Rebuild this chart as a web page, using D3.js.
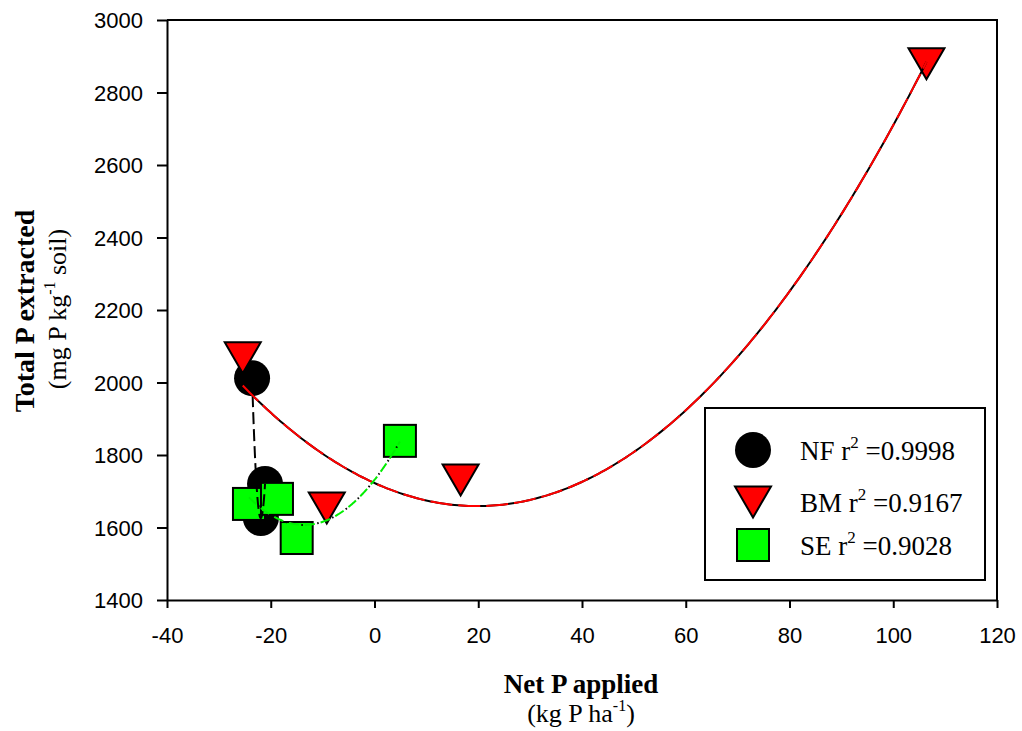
<!DOCTYPE html>
<html>
<head>
<meta charset="utf-8">
<script src="https://cdn.jsdelivr.net/npm/d3@7"></script>
<style>
  body { margin: 0; background: #fff; }
  svg { display: block; }
</style>
</head>
<body>
<svg id="chart" width="1022" height="731"></svg>
<script>
// values
const nfX = [-23.6, -21.1, -21.9];
const nfY = [2012, 1720, 1626];
const bmX = [-25.4, -9.2, 16.6, 106.4];
const bmY = [2068, 1654, 1731, 2879];
const seX = [-24.2, -18.8, -15.0, 4.9];
const seY = [1665, 1679, 1571, 1839];
const xTicks = [-40, -20, 0, 20, 40, 60, 80, 100, 120];
const yTicks = [1400, 1600, 1800, 2000, 2200, 2400, 2600, 2800, 3000];
const legendNames = ['NF', 'BM', 'SE'];
const legendR2 = ['0.9998', '0.9167', '0.9028'];

const svg = d3.select('#chart');
const serif = 'Liberation Serif, Times New Roman, serif';
const sans = 'Liberation Sans, Arial, sans-serif';

const x = d3.scaleLinear().domain([-40, 120]).range([167, 997]);
const y = d3.scaleLinear().domain([1400, 3000]).range([600, 20]);

// least squares quadratic y = a + b x + c x^2
function quadFit(xs, ys) {
  const S = [0, 0, 0, 0, 0], T = [0, 0, 0];
  xs.forEach((xi, i) => {
    for (let k = 0; k < 5; k++) S[k] += Math.pow(xi, k);
    for (let k = 0; k < 3; k++) T[k] += ys[i] * Math.pow(xi, k);
  });
  const M = [[S[0], S[1], S[2], T[0]], [S[1], S[2], S[3], T[1]], [S[2], S[3], S[4], T[2]]];
  for (let i = 0; i < 3; i++) {
    for (let j = i + 1; j < 3; j++) {
      const f = M[j][i] / M[i][i];
      for (let k = i; k < 4; k++) M[j][k] -= f * M[i][k];
    }
  }
  const c = [0, 0, 0];
  for (let i = 2; i >= 0; i--) {
    let s = M[i][3];
    for (let k = i + 1; k < 3; k++) s -= M[i][k] * c[k];
    c[i] = s / M[i][i];
  }
  return c;
}

function fitPoints(xs, ys) {
  const c = quadFit(xs, ys);
  const lo = d3.min(xs), hi = d3.max(xs);
  return d3.range(0, 201).map(i => {
    const v = lo + (hi - lo) * i / 200;
    return [v, c[0] + c[1] * v + c[2] * v * v];
  });
}

const line = d3.line().x(d => x(d[0])).y(d => y(d[1]));

// axes
const xAxis = d3.axisBottom(x).tickValues(xTicks).tickSize(8).tickSizeOuter(0).tickFormat(d => String(d));
const yAxis = d3.axisLeft(y).tickValues(yTicks).tickSize(10).tickSizeOuter(0).tickFormat(d => String(d));

const gx = svg.append('g').attr('transform', 'translate(0,600)').call(xAxis);
const gy = svg.append('g').attr('transform', 'translate(167,0)').call(yAxis);
[gx, gy].forEach(g => {
  g.select('.domain').attr('stroke', '#000').attr('stroke-width', 2);
  g.selectAll('.tick line').attr('stroke', '#000').attr('stroke-width', 2);
  g.selectAll('.tick text').attr('font-family', sans).attr('font-size', 22).attr('fill', '#000');
});
gx.selectAll('.tick text').attr('dy', 0).attr('y', 43);
gy.selectAll('.tick text').attr('x', -24).attr('dy', '0.36em');

// frame top and right
svg.append('path')
  .attr('d', `M${x(-40)},${y(3000)}H${x(120)}V${y(1400)}`)
  .attr('fill', 'none').attr('stroke', '#000').attr('stroke-width', 2);

// symbols
const tri = (cx, cy, w, h) => `M${cx - w / 2},${cy - h / 2}H${cx + w / 2}L${cx},${cy + h / 2}Z`;

svg.append('g').selectAll('circle').data(nfX).join('circle')
  .attr('cx', d => x(d)).attr('cy', (d, i) => y(nfY[i])).attr('r', 18)
  .attr('fill', '#000');

svg.append('g').selectAll('path').data(bmX).join('path')
  .attr('d', (d, i) => tri(x(d), y(bmY[i]), 36, 31))
  .attr('fill', '#ff0000').attr('stroke', '#000').attr('stroke-width', 2);

svg.append('g').selectAll('rect').data(seX).join('rect')
  .attr('x', d => x(d) - 16).attr('y', (d, i) => y(seY[i]) - 16)
  .attr('width', 32).attr('height', 32)
  .attr('fill', '#00ff00').attr('stroke', '#000').attr('stroke-width', 2);

// fitted curves
svg.append('path').datum(fitPoints(nfX, nfY)).attr('d', line)
  .attr('fill', 'none').attr('stroke', '#000').attr('stroke-width', 2)
  .attr('stroke-dasharray', '12,5');

const bmFit = fitPoints(bmX, bmY);
svg.append('path').datum(bmFit).attr('d', line)
  .attr('fill', 'none').attr('stroke', '#000').attr('stroke-width', 2);
svg.append('path').datum(bmFit).attr('d', line)
  .attr('fill', 'none').attr('stroke', '#ff0000').attr('stroke-width', 2)
  .attr('stroke-dasharray', '22,6');

const seFit = fitPoints(seX, seY);
svg.append('path').datum(seFit).attr('d', line)
  .attr('fill', 'none').attr('stroke', '#00ee00').attr('stroke-width', 2)
  .attr('stroke-dasharray', '10,6');
svg.append('path').datum(seFit).attr('d', line)
  .attr('fill', 'none').attr('stroke', '#000').attr('stroke-width', 2)
  .attr('stroke-dasharray', '1.5,14.5').attr('stroke-dashoffset', 3.5);

// axis titles
svg.append('text').attr('x', 581).attr('y', 693).attr('text-anchor', 'middle')
  .attr('font-family', serif).attr('font-size', 27).attr('font-weight', 'bold')
  .text('Net P applied');
const xs = svg.append('text').attr('x', 581).attr('y', 722).attr('text-anchor', 'middle')
  .attr('font-family', serif).attr('font-size', 26);
xs.append('tspan').text('(kg P ha');
xs.append('tspan').attr('dy', -11).attr('font-size', 16).text('-1');
xs.append('tspan').attr('dy', 11).text(')');

svg.append('text').attr('transform', 'translate(34,311) rotate(-90)').attr('text-anchor', 'middle')
  .attr('font-family', serif).attr('font-size', 28).attr('font-weight', 'bold')
  .text('Total P extracted');
const ys = svg.append('text').attr('transform', 'translate(66,309) rotate(-90)').attr('text-anchor', 'middle')
  .attr('font-family', serif).attr('font-size', 26);
ys.append('tspan').text('(mg P kg');
ys.append('tspan').attr('dy', -11).attr('font-size', 16).text('-1');
ys.append('tspan').attr('dy', 11).text(' soil)');

// legend
const lg = svg.append('g');
lg.append('rect').attr('x', 705).attr('y', 408).attr('width', 280).attr('height', 172)
  .attr('fill', '#fff').attr('stroke', '#000').attr('stroke-width', 2);
const rowY = [450, 502, 545];
lg.append('circle').attr('cx', 753).attr('cy', rowY[0]).attr('r', 18).attr('fill', '#000');
lg.append('path').attr('d', tri(753, rowY[1], 36, 31))
  .attr('fill', '#ff0000').attr('stroke', '#000').attr('stroke-width', 2);
lg.append('rect').attr('x', 737).attr('y', rowY[2] - 16).attr('width', 32).attr('height', 32)
  .attr('fill', '#00ff00').attr('stroke', '#000').attr('stroke-width', 2);
legendNames.forEach((n, i) => {
  const t = lg.append('text').attr('x', 800).attr('y', rowY[i] + 10)
    .attr('font-family', serif).attr('font-size', 27).attr('fill', '#000');
  t.append('tspan').text(n + ' r');
  t.append('tspan').attr('dy', -12).attr('font-size', 17).text('2');
  t.append('tspan').attr('dy', 12).text(' =' + legendR2[i]);
});
</script>
</body>
</html>
